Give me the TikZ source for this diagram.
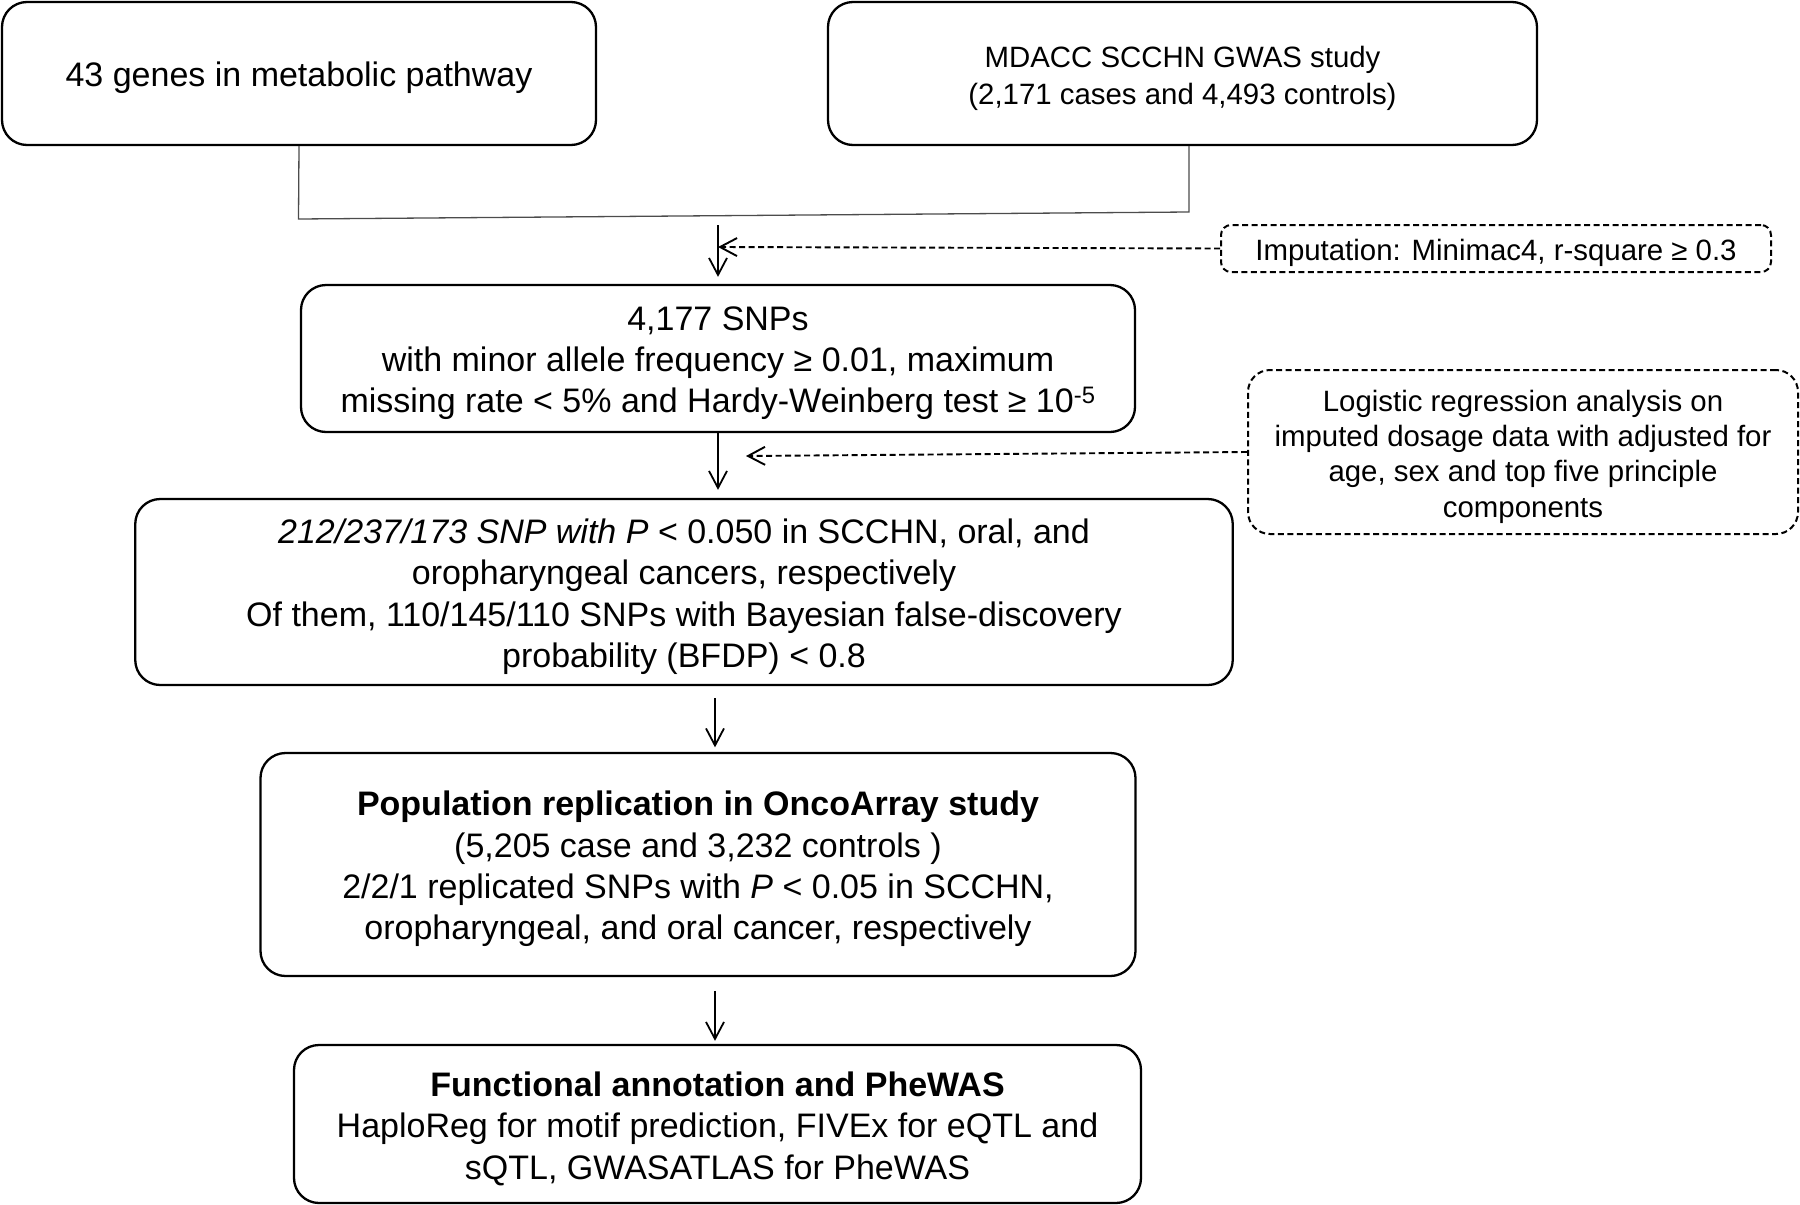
\documentclass[tikz,border=0pt]{standalone}
\usepackage{fontspec}
\setmainfont{Liberation Sans}
\usetikzlibrary{arrows.meta}
\begin{document}
\begin{tikzpicture}[x=1pt,y=-1pt,
 box/.style={draw, line width=2.3pt, rounded corners=25pt, inner sep=0pt},
 dbox/.style={draw, line width=2pt, dash pattern=on 6pt off 3.5pt, rounded corners=22pt, inner sep=0pt},
 txt/.style={inner sep=0pt, align=center, yshift=-4.6pt, font=\fontsize{34}{41.3}\selectfont},
 stxt/.style={txt, font=\fontsize{29.4}{35.2}\selectfont},
 arr/.style={line width=1.8pt, -{Straight Barb[length=17pt,width=18pt]}},
 darr/.style={line width=1.9pt, dash pattern=on 6pt off 3.5pt, -{Straight Barb[length=17pt,width=18pt]}},
 conn/.style={line width=1.3pt, draw=black!70}]
\useasboundingbox (0,0) rectangle (1800,1205);
% boxes
\node[box, minimum width=594pt, minimum height=143pt] (b1) at (299,73.5) {};
\node[box, minimum width=709pt, minimum height=143pt] (b2) at (1182.5,73.5) {};
\node[dbox, minimum width=550pt, minimum height=47pt, rounded corners=10pt] (imp) at (1496,248.5) {};
\node[box, minimum width=834pt, minimum height=147pt] (b3) at (718,358.5) {};
\node[dbox, minimum width=550pt, minimum height=164pt] (lr) at (1523,452) {};
\node[box, minimum width=1097.5pt, minimum height=186pt] (b4) at (684,592) {};
\node[box, minimum width=875pt, minimum height=223pt] (b5) at (698,864.5) {};
\node[box, minimum width=847pt, minimum height=158pt] (b6) at (717.5,1124) {};
% texts
\node[txt] (t1) at (b1.center) {43 genes in metabolic pathway};
\node[stxt, font=\fontsize{29.4}{37}\selectfont] (t2) at (b2.center) {MDACC SCCHN GWAS study\\(2,171 cases and 4,493 controls)};
\node[stxt] (timp) at (imp.center) {Imputation: Minimac4, r-square ≥ 0.3};
\node[txt] (t3) at (b3.center) {4,177 SNPs\\with minor allele frequency ≥ 0.01, maximum\\missing rate < 5\% and Hardy-Weinberg test ≥ 10\textsuperscript{-5}};
\node[stxt] (tlr) at (lr.center) {Logistic regression analysis on\\imputed dosage data with adjusted for\\age, sex and top five principle\\components};
\node[txt] (t4) at (b4.center) {\textit{212/237/173 SNP with P} < 0.050 in SCCHN, oral, and\\oropharyngeal cancers, respectively\\Of them, 110/145/110 SNPs with Bayesian false-discovery\\probability (BFDP) < 0.8};
\node[txt] (t5) at (b5.center) {\textbf{Population replication in OncoArray study}\\(5,205 case and 3,232 controls )\\2/2/1 replicated SNPs with \textit{P} < 0.05 in SCCHN,\\oropharyngeal, and oral cancer, respectively};
\node[txt] (t6) at (b6.center) {\textbf{Functional annotation and PheWAS}\\HaploReg for motif prediction, FIVEx for eQTL and\\sQTL, GWASATLAS for PheWAS};
% connectors
\coordinate (j1) at (298.5,219);
\coordinate (j2) at (1189,212);
\draw[conn] (b1.south) -- (j1) -- (j2) -- (b2.south -| j2);
\coordinate (a1s) at (718,225);
\coordinate (a1m) at (718,247);
\draw[arr, shorten >=7pt] (a1s) -- (b3.north -| a1s);
\draw[darr] (imp.west) -- (a1m);
\draw[arr, shorten >=8pt] (b3.south -| a1s) -- (b4.north -| a1s);
\coordinate (a2m) at (746,456);
\draw[darr] (lr.west) -- (a2m);
\coordinate (x3) at (715,0);
\draw[arr, shorten <=12pt, shorten >=4.5pt] (b4.south -| x3) -- (b5.north -| x3);
\draw[arr, shorten <=13.6pt, shorten >=3pt] (b5.south -| x3) -- (b6.north -| x3);
\end{tikzpicture}
\end{document}
